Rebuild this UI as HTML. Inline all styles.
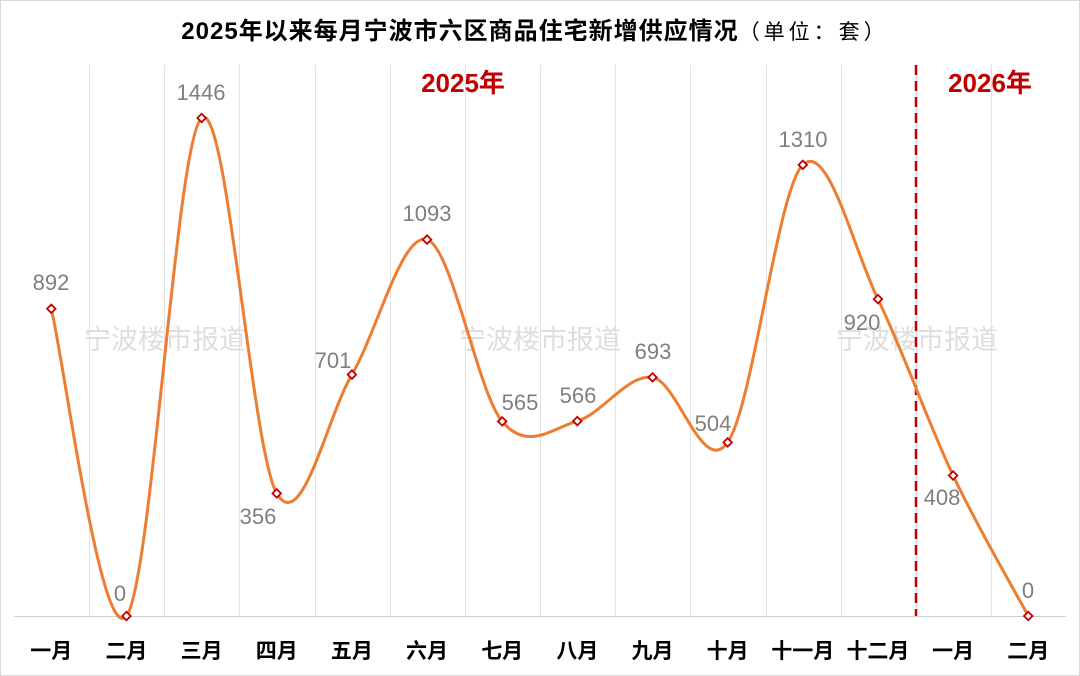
<!DOCTYPE html>
<html><head><meta charset="utf-8"><style>
body{margin:0;background:#fff}
svg{display:block;font-family:"Liberation Sans","Noto Sans CJK SC",sans-serif}
</style></head><body>
<svg id="s" width="1080" height="676" viewBox="0 0 1080 676" xmlns="http://www.w3.org/2000/svg">
<rect x="0.5" y="0.5" width="1079" height="675" fill="#fff" stroke="#d9d9d9"/>
<text x="535" y="39" text-anchor="middle" font-size="24" font-weight="bold" fill="#000" letter-spacing="1">2025年以来每月宁波市六区商品住宅新增供应情况<tspan font-weight="normal" font-size="21" letter-spacing="4">（单位：套）</tspan></text>
<g stroke="#e3e3e3" stroke-width="1" id="grid"></g>
<line x1="14" y1="616.5" x2="1066" y2="616.5" stroke="#d0d0d0"/>
<g font-size="27" fill="#dedede" text-anchor="middle">
<text x="165" y="349">宁波楼市报道</text><text x="540" y="349">宁波楼市报道</text><text x="917" y="349">宁波楼市报道</text></g>
<line x1="916" y1="65" x2="916" y2="616" stroke="#c00000" stroke-width="2.5" stroke-dasharray="10,6"/>
<g font-size="26" font-weight="bold" fill="#c00000" text-anchor="middle">
<text x="463" y="92">2025年</text><text x="990" y="92">2026年</text></g>
<path id="curve" fill="none" stroke="#ed7d31" stroke-width="3"/>
<g id="marks"></g>
<g font-size="22" fill="#7f7f7f" text-anchor="middle">
<text x="51" y="290">892</text><text x="120" y="601">0</text><text x="201" y="100">1446</text>
<text x="258" y="524">356</text><text x="333" y="368">701</text><text x="427" y="221">1093</text>
<text x="520" y="410">565</text><text x="578" y="403">566</text><text x="653" y="359">693</text>
<text x="713" y="431">504</text><text x="803" y="147">1310</text><text x="862" y="330">920</text>
<text x="942" y="505">408</text><text x="1028" y="598">0</text></g>
<g font-size="21" font-weight="bold" fill="#000" text-anchor="middle" id="xl"></g>
</svg>
<script>
var v=[892,0,1446,356,701,1093,565,566,693,504,1310,920,408,0];
var L=["一月","二月","三月","四月","五月","六月","七月","八月","九月","十月","十一月","十二月","一月","二月"];
var P=v.map(function(a,i){return [51.3+75.15*i,616-a*0.3444]});
var ns="http://www.w3.org/2000/svg";
var g=document.getElementById("grid");
for(var k=1;k<14;k++){var x=Math.round(14+75.15*k)+0.5;var l=document.createElementNS(ns,"line");l.setAttribute("x1",x);l.setAttribute("x2",x);l.setAttribute("y1",65);l.setAttribute("y2",616);g.appendChild(l);}
var d="M"+P[0][0]+","+P[0][1];
for(var i=0;i<13;i++){var p0=P[Math.max(i-1,0)],p1=P[i],p2=P[i+1],p3=P[Math.min(i+2,13)];
var c1=[p1[0]+(p2[0]-p0[0])/6,p1[1]+(p2[1]-p0[1])/6],c2=[p2[0]-(p3[0]-p1[0])/6,p2[1]-(p3[1]-p1[1])/6];
d+=" C"+c1+" "+c2+" "+p2;}
document.getElementById("curve").setAttribute("d",d);
var m=document.getElementById("marks"),xl=document.getElementById("xl");
P.forEach(function(p,i){var r=document.createElementNS(ns,"rect");r.setAttribute("x",p[0]-3);r.setAttribute("y",p[1]-3);r.setAttribute("width",6);r.setAttribute("height",6);r.setAttribute("fill","#fff");r.setAttribute("stroke","#c00000");r.setAttribute("stroke-width","1.8");r.setAttribute("transform","rotate(45 "+p[0]+" "+p[1]+")");m.appendChild(r);
var t=document.createElementNS(ns,"text");t.setAttribute("x",p[0]);t.setAttribute("y",658);t.textContent=L[i];xl.appendChild(t);});
</script>
</body></html>
